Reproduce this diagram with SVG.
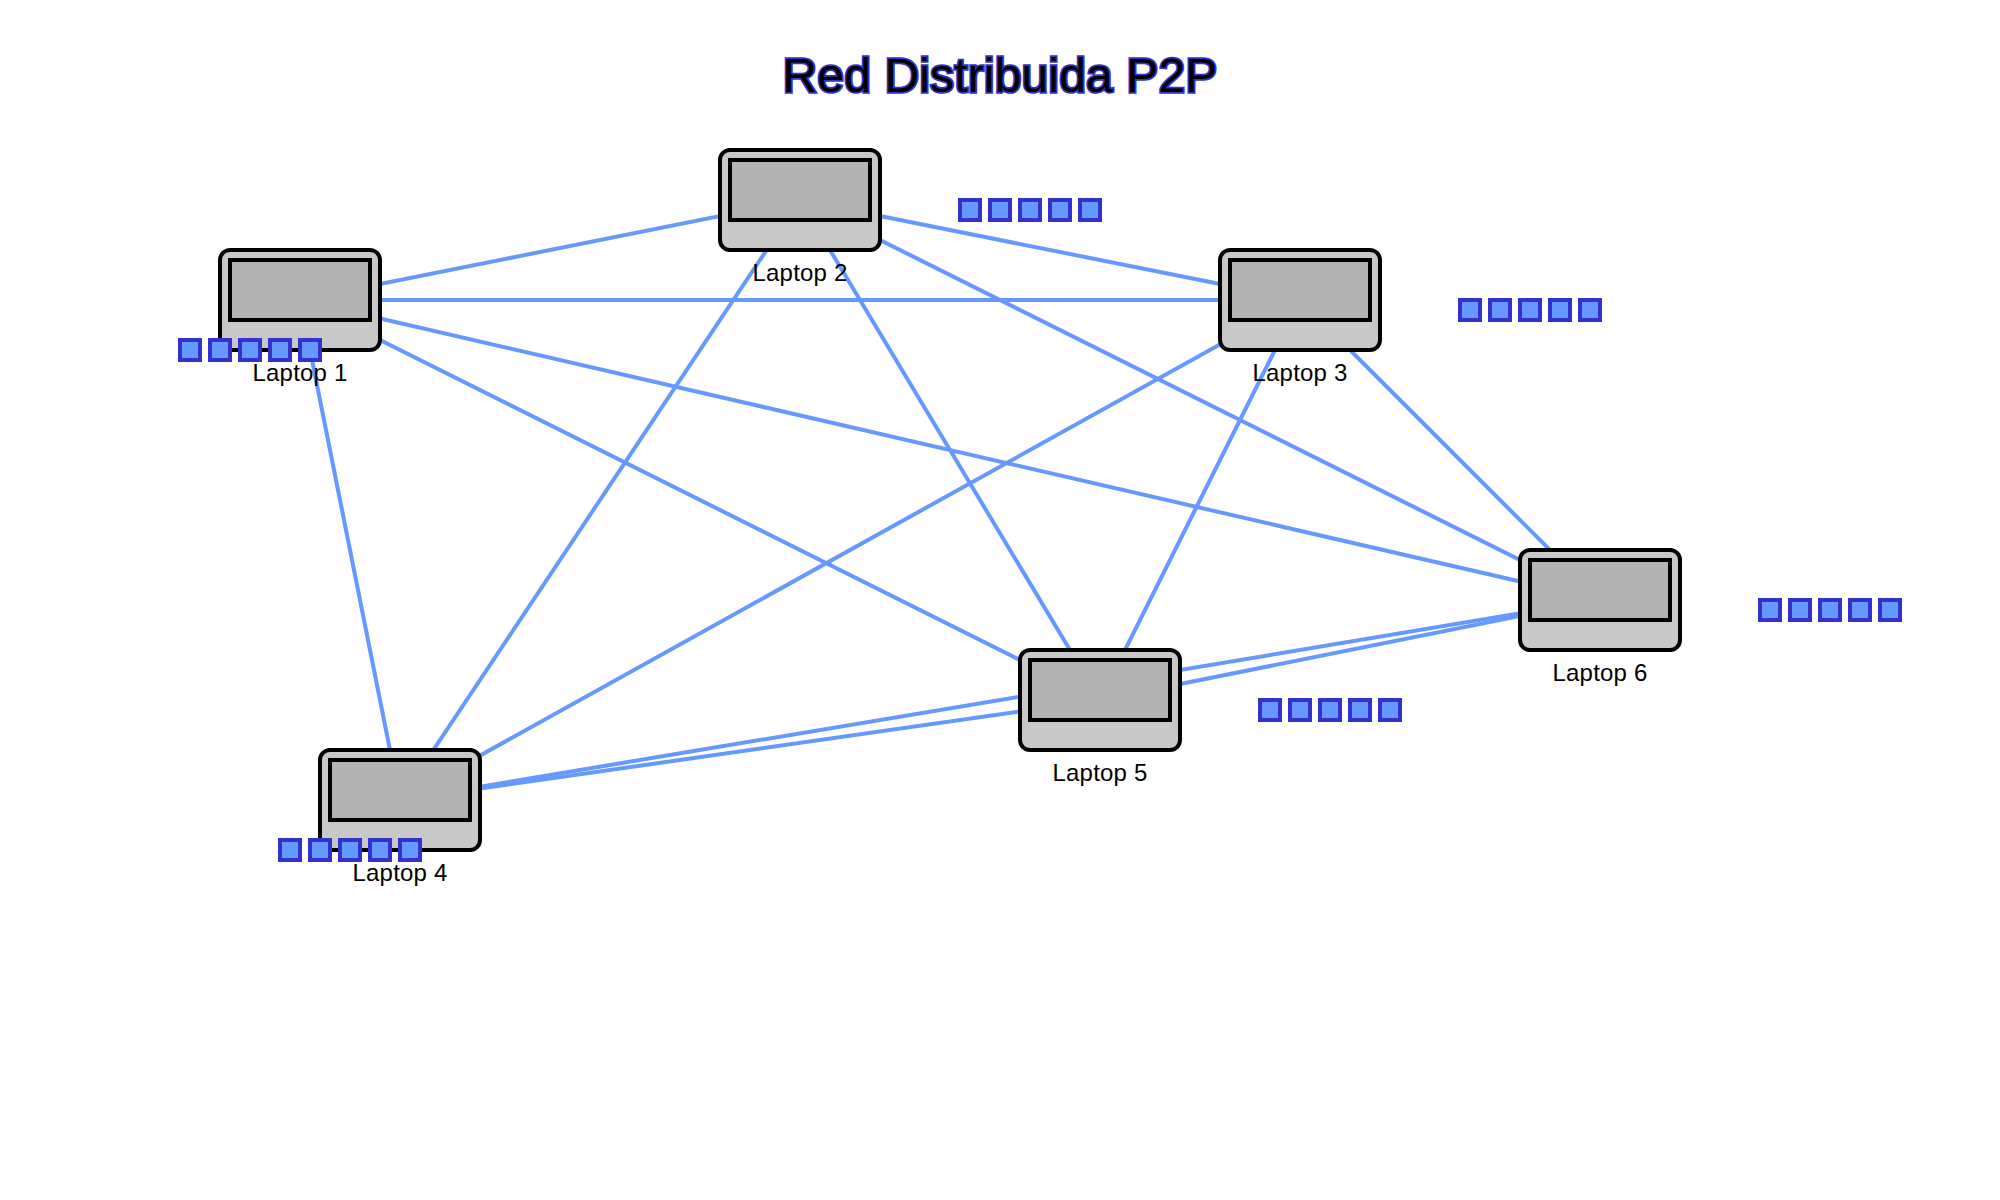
<svg xmlns="http://www.w3.org/2000/svg" width="2000" height="1200" viewBox="0 0 2000 1200">
<style>
text{font-family:"Liberation Sans",Arial,sans-serif;text-anchor:middle}
.title{font-size:48px;fill:#000;stroke:#3333cc;stroke-width:3.5px;paint-order:stroke;letter-spacing:.15px}
.label{font-size:24px;fill:#000;letter-spacing:.2px}
.link{stroke:#6699ff;stroke-width:4;fill:none}
.body{fill:#c8c8c8;stroke:#000;stroke-width:4}
.screen{fill:#b3b3b3;stroke:#000;stroke-width:4}
.pkt{fill:#6699ff;stroke:#3333cc;stroke-width:4}
</style>
<defs>
<g id="laptop"><rect class="body" x="-80" y="-50" width="160" height="100" rx="10" ry="10"/><rect class="screen" x="-70" y="-40" width="140" height="60"/></g>
<g id="pkts"><rect class="pkt" x="0" y="0" width="20" height="20"/><rect class="pkt" x="30" y="0" width="20" height="20"/><rect class="pkt" x="60" y="0" width="20" height="20"/><rect class="pkt" x="90" y="0" width="20" height="20"/><rect class="pkt" x="120" y="0" width="20" height="20"/></g>
</defs>
<rect width="2000" height="1200" fill="#fff"/>
<text class="title" x="1000" y="92">Red Distribuida P2P</text>
<g id="connectors">
<line class="link" x1="300" y1="300" x2="800" y2="200"/>
<line class="link" x1="300" y1="300" x2="1300" y2="300"/>
<line class="link" x1="300" y1="300" x2="400" y2="800"/>
<line class="link" x1="300" y1="300" x2="1100" y2="700"/>
<line class="link" x1="300" y1="300" x2="1600" y2="600"/>
<line class="link" x1="800" y1="200" x2="1300" y2="300"/>
<line class="link" x1="800" y1="200" x2="400" y2="800"/>
<line class="link" x1="800" y1="200" x2="1100" y2="700"/>
<line class="link" x1="800" y1="200" x2="1600" y2="600"/>
<line class="link" x1="1300" y1="300" x2="400" y2="800"/>
<line class="link" x1="1300" y1="300" x2="1100" y2="700"/>
<line class="link" x1="1300" y1="300" x2="1600" y2="600"/>
<line class="link" x1="400" y1="800" x2="1100" y2="700"/>
<line class="link" x1="400" y1="800" x2="1600" y2="600"/>
<line class="link" x1="1100" y1="700" x2="1600" y2="600"/>
</g>
<g id="laptop1"><use href="#laptop" x="300" y="300"/><text class="label" x="300" y="381">Laptop 1</text><use href="#pkts" x="180" y="340"/></g>
<g id="laptop2"><use href="#laptop" x="800" y="200"/><text class="label" x="800" y="281">Laptop 2</text><use href="#pkts" x="960" y="200"/></g>
<g id="laptop3"><use href="#laptop" x="1300" y="300"/><text class="label" x="1300" y="381">Laptop 3</text><use href="#pkts" x="1460" y="300"/></g>
<g id="laptop4"><use href="#laptop" x="400" y="800"/><text class="label" x="400" y="881">Laptop 4</text><use href="#pkts" x="280" y="840"/></g>
<g id="laptop5"><use href="#laptop" x="1100" y="700"/><text class="label" x="1100" y="781">Laptop 5</text><use href="#pkts" x="1260" y="700"/></g>
<g id="laptop6"><use href="#laptop" x="1600" y="600"/><text class="label" x="1600" y="681">Laptop 6</text><use href="#pkts" x="1760" y="600"/></g>
</svg>
